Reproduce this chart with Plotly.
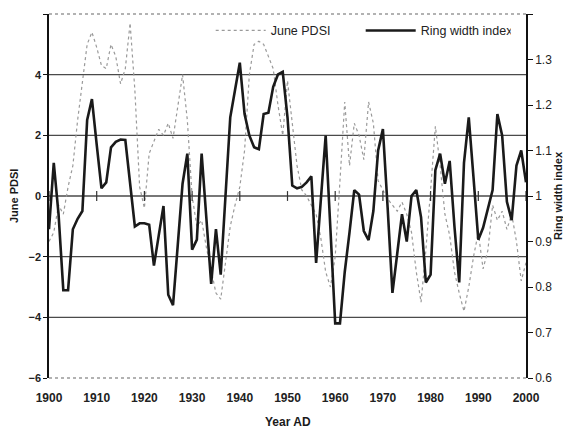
import plotly.graph_objects as go

years = list(range(1900, 2001))

june_pdsi = [
    -1.5, -1.2, -0.3, -0.6, 0.3, 1.0, 2.5, 3.8, 5.0, 5.4,
    4.9, 4.3, 4.2, 5.0, 4.6, 3.7, 4.2, 5.7, 3.5, 0.3,
    -0.4, 1.4, 1.8, 2.2, 2.0, 2.4, 1.9, 3.0, 4.0, 2.5,
    0.0, -1.0, -0.8, -1.7, -2.5, -3.2, -3.4, -2.2, -1.0, -0.3,
    0.3, 1.5, 4.0, 5.0, 5.1, 5.0, 4.6, 4.2, 3.0, 2.0,
    3.8, 2.5, 1.0, 0.2, 0.0, -0.3, -0.6, -1.4, -2.5, -3.0,
    -2.0, 0.5, 3.1, 1.0, 2.4, 2.0, 1.2, 3.1, 2.4, 0.5,
    0.2, -0.1, -0.3, -0.5, -0.2, -0.6, -1.2, -2.5, -3.5, -1.8,
    0.2, 2.3, 1.0, -0.6, -1.3, -2.5, -3.2, -3.8, -3.0, -2.0,
    -1.2, -2.4, -1.8, -0.3, -0.8, -0.5, -1.1, -0.6, -1.5, -2.8,
    -2.2,
]

ring_width = [
    0.927, 1.073, 0.960, 0.793, 0.793, 0.927, 0.950, 0.967, 1.167, 1.213,
    1.113, 1.017, 1.030, 1.107, 1.119, 1.124, 1.123, 1.020, 0.933, 0.940,
    0.940, 0.937, 0.847, 0.913, 0.978, 0.783, 0.760, 0.893, 1.027, 1.093,
    0.882, 0.904, 1.093, 0.950, 0.807, 0.927, 0.827, 1.000, 1.173, 1.233,
    1.293, 1.180, 1.133, 1.107, 1.103, 1.180, 1.183, 1.240, 1.267, 1.273,
    1.173, 1.023, 1.017, 1.020, 1.030, 1.043, 0.853, 0.993, 1.133, 0.927,
    0.720, 0.720, 0.833, 0.920, 1.013, 1.003, 0.923, 0.903, 0.967, 1.100,
    1.147, 0.973, 0.787, 0.873, 0.960, 0.900, 1.000, 1.013, 0.953, 0.810,
    0.827, 1.057, 1.093, 1.027, 1.077, 0.933, 0.810, 1.073, 1.173, 1.040,
    0.904, 0.930, 0.973, 1.013, 1.180, 1.133, 0.987, 0.947, 1.067, 1.100,
    1.030,
]

x_ticks = list(range(1900, 2001, 10))
pdsi_ticks = [-6, -4, -2, 0, 2, 4, 6]
pdsi_grid = [-4, -2, 0, 2, 4]
ring_ticks = [0.6, 0.7, 0.8, 0.9, 1.0, 1.1, 1.2, 1.3, 1.4]
ring_ticktext = ["0.6", "0.7", "0.8", "0.9", "1", "1.1", "1.2", "1.3", "1.4"]

FONT = "Arial, Liberation Sans, sans-serif"

fig = go.Figure()

fig.add_trace(go.Scatter(
    x=years, y=june_pdsi, name="June PDSI", mode="lines",
    line=dict(color="#9a9a9a", width=1.2, dash="dot"),
))
fig.add_trace(go.Scatter(
    x=years, y=ring_width, name="Ring width index", mode="lines",
    line=dict(color="#1a1a1a", width=2.6),
    yaxis="y2",
))
# decade tick marks sitting on the zero line
fig.add_trace(go.Scatter(
    x=x_ticks, y=[0] * len(x_ticks), mode="markers", showlegend=False,
    hoverinfo="skip",
    marker=dict(symbol="line-ns", size=7, line=dict(color="#333", width=1.2)),
))

shapes = []
for g in pdsi_grid:
    shapes.append(dict(type="line", xref="paper", x0=0, x1=1, yref="y", y0=g, y1=g,
                       line=dict(color="#4a4a4a", width=1.4), layer="below"))
for yp in (0, 1):
    shapes.append(dict(type="line", xref="paper", x0=0, x1=1, yref="paper", y0=yp, y1=yp,
                       line=dict(color="#666", width=1.2, dash="dot"), layer="below"))

title_font = dict(size=11, family=FONT, weight="bold", color="#1a1a1a")
annotations = [
    dict(text="June PDSI", xref="paper", yref="paper", x=0, y=0.5, xanchor="center",
         yanchor="middle", xshift=-35, textangle=-90, showarrow=False, font=title_font),
    dict(text="Ring width index", xref="paper", yref="paper", x=1, y=0.5, xanchor="center",
         yanchor="middle", xshift=32, textangle=-90, showarrow=False, font=title_font),
    dict(text="Year AD", xref="paper", yref="paper", x=0.5, y=0, xanchor="center",
         yanchor="middle", yshift=-44, showarrow=False,
         font=dict(size=12, family=FONT, weight="bold", color="#1a1a1a")),
]

# the page body adds an 8px margin, so the figure is sized to 563x425
fig.update_layout(
    width=563, height=425,
    margin=dict(l=41, r=45, t=6, b=55),
    paper_bgcolor="white", plot_bgcolor="white",
    font=dict(family=FONT, color="#1a1a1a", size=12),
    shapes=shapes,
    annotations=annotations,
    showlegend=True,
    legend=dict(orientation="h", x=0.339, y=0.995, xanchor="left", yanchor="top",
                bgcolor="rgba(255,255,255,0)", font=dict(size=12.5, family=FONT, color="#222"),
                entrywidth=85, entrywidthmode="pixels", itemwidth=50),
    xaxis=dict(range=[1900, 2000], tickvals=x_ticks, showgrid=False, zeroline=False,
               showline=False, ticks="", ticklabelstandoff=11, automargin=False,
               tickfont=dict(size=12, family=FONT, weight="bold", color="#222")),
    yaxis=dict(range=[-6, 6], tickvals=pdsi_ticks, showgrid=False, zeroline=False,
               showline=True, linecolor="#111", linewidth=1.5, ticks="outside", ticklen=4,
               tickcolor="#111", automargin=False,
               tickfont=dict(size=11, family=FONT, weight="bold", color="#222")),
    yaxis2=dict(range=[0.6, 1.4], tickvals=ring_ticks, ticktext=ring_ticktext, overlaying="y",
                side="right", showgrid=False, zeroline=False, showline=True, linecolor="#111",
                linewidth=1.5, ticks="outside", ticklen=5, tickcolor="#111", automargin=False,
                tickfont=dict(size=12, family=FONT, color="#222")),
)

fig.write_html("out.html")
